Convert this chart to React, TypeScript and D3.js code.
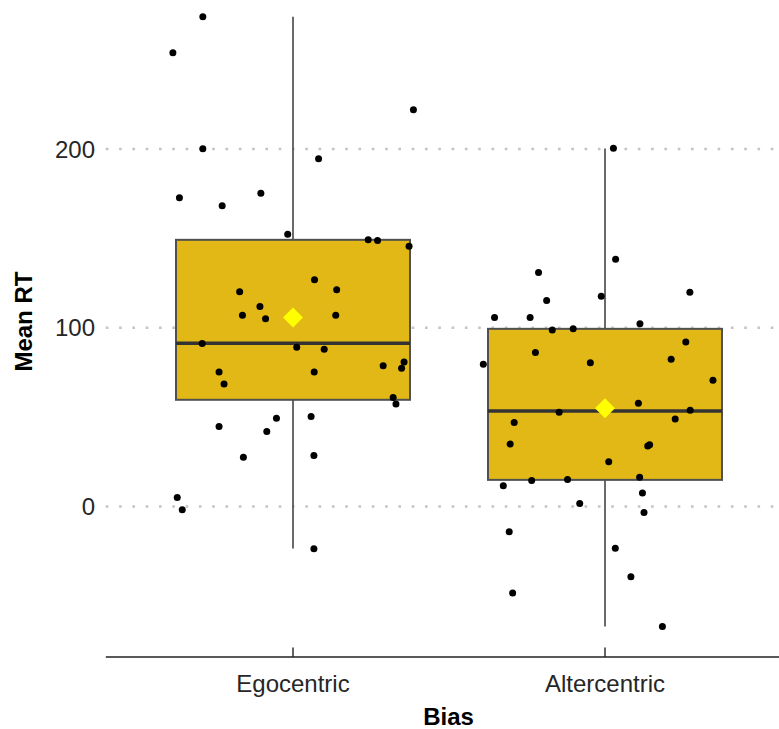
import React from "react";
import * as d3 from "d3";

const categories = ["Egocentric", "Altercentric"];
const yTicks = [0, 100, 200];

// Box statistics
const q1 = [59.7, 14.9];
const medians = [91.4, 53.4];
const q3 = [149.2, 99.4];
const whiskerLow = [-23.5, -67.1];
const whiskerHigh = [274.0, 200.3];
const means = [105.7, 55.0];

// Jittered observations: value and horizontal jitter (in category units)
const egoValues = [274.0, 253.9, 222.0, 200.1, 194.5, 172.7, 168.3, 175.3, 152.3, 149.2, 148.8, 145.6, 126.8, 120.2, 121.2, 111.9, 107.0, 105.0, 107.0, 91.2, 89.1, 88.0, 75.2, 75.2, 68.5, 78.7, 80.8, 77.4, 61.0, 57.4, 49.4, 50.3, 44.7, 41.9, 27.6, 28.5, 5.0, -1.8, -23.7];
const egoJitter = [-0.289, -0.385, 0.386, -0.289, 0.082, -0.364, -0.227, -0.103, -0.017, 0.241, 0.271, 0.372, 0.069, -0.171, 0.140, -0.106, -0.162, -0.088, 0.137, -0.291, 0.012, 0.100, -0.237, 0.068, -0.221, 0.289, 0.356, 0.348, 0.321, 0.330, -0.053, 0.058, -0.237, -0.084, -0.159, 0.067, -0.371, -0.355, 0.067];
const altValues = [200.4, 138.4, 130.9, 115.2, 117.7, 119.9, 105.7, 105.7, 102.3, 98.7, 99.4, 92.1, 79.6, 86.1, 80.4, 82.4, 70.7, 57.8, 52.8, 53.9, 48.9, 47.0, 34.9, 33.9, 34.5, 25.0, 11.6, 14.5, 15.1, 16.4, 7.5, 1.7, -3.4, -14.1, -23.3, -39.3, -48.4, -67.1];
const altJitter = [0.027, 0.034, -0.213, -0.187, -0.012, 0.272, -0.354, -0.240, 0.112, -0.169, -0.102, 0.259, -0.390, -0.223, -0.047, 0.212, 0.346, 0.107, -0.147, 0.273, 0.225, -0.291, -0.304, 0.137, 0.143, 0.012, -0.326, -0.235, -0.120, 0.111, 0.120, -0.081, 0.125, -0.307, 0.033, 0.083, -0.296, 0.184];

const W = 779;
const H = 729;
const FONT = "'Liberation Sans', Arial, Helvetica, sans-serif";

export default function App() {
  const x = d3.scaleLinear().domain([0.4, 2.6]).range([105.8, 792.2]);
  const y = d3.scaleLinear().domain([-84.2, 291.1]).range([657, -13.8]);
  const boxHalf = 0.375;

  const groups = [
    { values: egoValues, jitter: egoJitter },
    { values: altValues, jitter: altJitter },
  ];

  const diamond = (cx: number, cy: number, r: number) =>
    `M${cx},${cy - r}L${cx + r},${cy}L${cx},${cy + r}L${cx - r},${cy}Z`;

  return (
    <div style={{ position: "absolute", left: 0, top: 0 }}>
      <svg width={W} height={H} style={{ display: "block", background: "#fff" }}>
        {/* grid */}
        {yTicks.map((t) => (
          <line
            key={"g" + t}
            x1={x(0.4)}
            x2={x(2.6)}
            y1={y(t)}
            y2={y(t)}
            stroke="#c4c4c4"
            strokeWidth={2.6}
            strokeDasharray="2.6 10.7"
          />
        ))}
        {/* y tick labels */}
        {yTicks.map((t) => (
          <text
            key={"yl" + t}
            x={95}
            y={y(t) + 8.6}
            textAnchor="end"
            fontFamily={FONT}
            fontSize={24}
            fill="#262626"
          >
            {t}
          </text>
        ))}
        {/* boxes */}
        {categories.map((c, i) => {
          const cx = x(i + 1);
          return (
            <g key={"b" + c}>
              <line x1={cx} x2={cx} y1={y(q3[i])} y2={y(whiskerHigh[i])} stroke="#5a5a5a" strokeWidth={1.8} />
              <line x1={cx} x2={cx} y1={y(q1[i])} y2={y(whiskerLow[i])} stroke="#5a5a5a" strokeWidth={1.8} />
              <rect
                x={x(i + 1 - boxHalf)}
                y={y(q3[i])}
                width={x(i + 1 + boxHalf) - x(i + 1 - boxHalf)}
                height={y(q1[i]) - y(q3[i])}
                fill="#E1B816"
                stroke="#505050"
                strokeWidth={2}
              />
              <line
                x1={x(i + 1 - boxHalf)}
                x2={x(i + 1 + boxHalf)}
                y1={y(medians[i])}
                y2={y(medians[i])}
                stroke="#333333"
                strokeWidth={3.5}
              />
            </g>
          );
        })}
        {/* points */}
        {groups.map((g, i) =>
          g.values.map((v, j) => (
            <circle key={`p${i}-${j}`} cx={x(i + 1 + g.jitter[j])} cy={y(v)} r={3.5} fill="#000" />
          ))
        )}
        {/* means */}
        {categories.map((c, i) => (
          <path key={"m" + c} d={diamond(x(i + 1), y(means[i]), 10)} fill="#FFFF00" />
        ))}
        {/* x axis */}
        <line x1={x(0.4)} x2={x(2.6)} y1={657} y2={657} stroke="#222" strokeWidth={1.6} />
        {categories.map((c, i) => (
          <g key={"xt" + c}>
            <line x1={x(i + 1)} x2={x(i + 1)} y1={657} y2={647.5} stroke="#222" strokeWidth={1.4} />
            <text
              x={x(i + 1)}
              y={691.5}
              textAnchor="middle"
              fontFamily={FONT}
              fontSize={24}
              fill="#262626"
            >
              {c}
            </text>
          </g>
        ))}
        <text x={448.5} y={725} textAnchor="middle" fontFamily={FONT} fontSize={24} fontWeight="bold" fill="#000">
          Bias
        </text>
        <text
          transform={`translate(32,${(y(-84.2) + y(291.1)) / 2}) rotate(-90)`}
          textAnchor="middle"
          fontFamily={FONT}
          fontSize={24}
          fontWeight="bold"
          fill="#000"
        >
          Mean RT
        </text>
      </svg>
    </div>
  );
}
